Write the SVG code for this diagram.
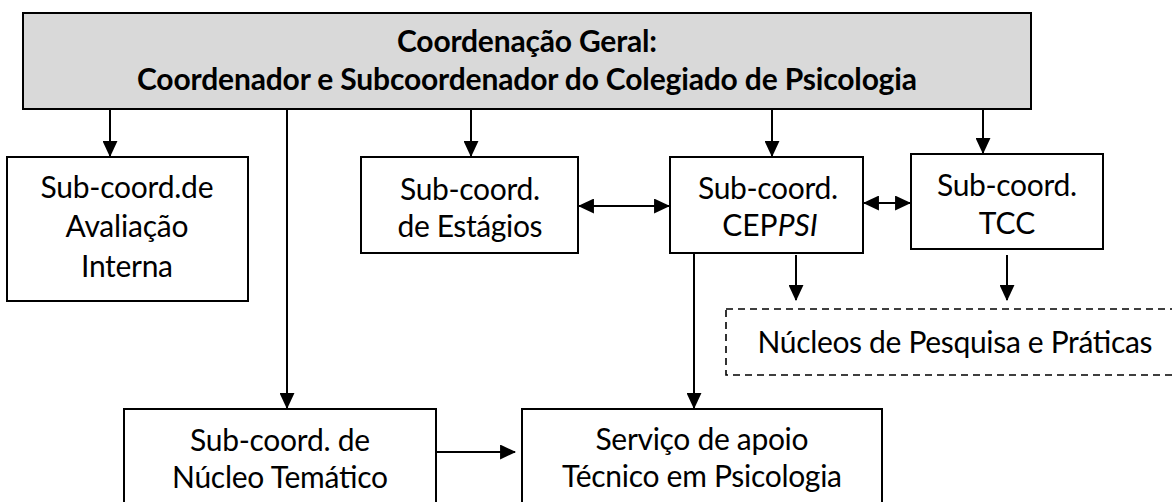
<svg xmlns="http://www.w3.org/2000/svg" width="1172" height="502" viewBox="0 0 1172 502">
<style>
.box{fill:#fff;stroke:#000;stroke-width:2}
.top{fill:#d9d9d9;stroke:#000;stroke-width:2}
.dash{fill:#fff;stroke:#000;stroke-width:1.6;stroke-dasharray:7 5}
text{font-family:Lato,"Noto Sans",sans-serif;font-size:30px;fill:#000;text-anchor:middle}
.b{font-weight:bold}
.conn line{stroke:#000;stroke-width:2;fill:none}
.a{marker-end:url(#ah)}
.d{marker-end:url(#ah);marker-start:url(#ah)}
</style>
<defs>
<marker id="ah" markerUnits="userSpaceOnUse" markerWidth="16" markerHeight="15" refX="14" refY="7" orient="auto-start-reverse" viewBox="0 0 15 14">
<path d="M0,0 L15,7 L0,14 z" fill="#000"/>
</marker>
</defs>
<g id="coord-geral">
<rect class="top" x="23" y="13" width="1008" height="96"/>
<text class="b" x="527" y="52" textLength="260">Coordenação Geral:</text>
<text class="b" x="527" y="90" textLength="780">Coordenador e Subcoordenador do Colegiado de Psicologia</text>
</g>
<g id="avaliacao">
<rect class="box" x="7" y="157" width="241" height="144"/>
<text x="127" y="198" textLength="173">Sub-coord.de</text>
<text x="127" y="237" textLength="123">Avaliação</text>
<text x="127" y="277" textLength="92">Interna</text>
</g>
<g id="estagios">
<rect class="box" x="361" y="157" width="217" height="96"/>
<text x="470" y="200" textLength="140">Sub-coord.</text>
<text x="470" y="237" textLength="145">de Estágios</text>
</g>
<g id="ceppsi">
<rect class="box" x="670" y="157" width="193" height="96"/>
<text x="768" y="199" textLength="140">Sub-coord.</text>
<text x="770" y="236">CEP<tspan font-style="italic">PSI</tspan></text>
</g>
<g id="tcc">
<rect class="box" x="911" y="154" width="192" height="95"/>
<text x="1007" y="196" textLength="140">Sub-coord.</text>
<text x="1007" y="234">TCC</text>
</g>
<g id="nucleos">
<rect class="dash" x="726" y="309" width="460" height="66"/>
<text x="955" y="353" textLength="395">Núcleos de Pesquisa e Práticas</text>
</g>
<g id="nucleo-tematico">
<rect class="box" x="124" y="409" width="312" height="110"/>
<text x="280" y="451" textLength="180">Sub-coord. de</text>
<text x="280" y="488" textLength="216">Núcleo Temático</text>
</g>
<g id="servico">
<rect class="box" x="522" y="409" width="360" height="110"/>
<text x="702" y="450" textLength="213">Serviço de apoio</text>
<text x="702" y="487" textLength="280">Técnico em Psicologia</text>
</g>
<g id="connectors" class="conn">
<line class="a" x1="110" y1="109" x2="110" y2="156"/>
<line class="a" x1="287" y1="109" x2="287" y2="408"/>
<line class="a" x1="471" y1="109" x2="471" y2="156"/>
<line class="a" x1="772" y1="109" x2="772" y2="156"/>
<line class="a" x1="983" y1="109" x2="983" y2="153"/>
<line class="d" x1="579" y1="206" x2="669" y2="206"/>
<line class="d" x1="864" y1="203" x2="910" y2="203"/>
<line class="a" x1="796" y1="255" x2="796" y2="300"/>
<line class="a" x1="1007" y1="255" x2="1007" y2="300"/>
<line class="a" x1="694" y1="253" x2="694" y2="408"/>
<line class="a" x1="436" y1="452" x2="515" y2="452"/>
</g>
</svg>
